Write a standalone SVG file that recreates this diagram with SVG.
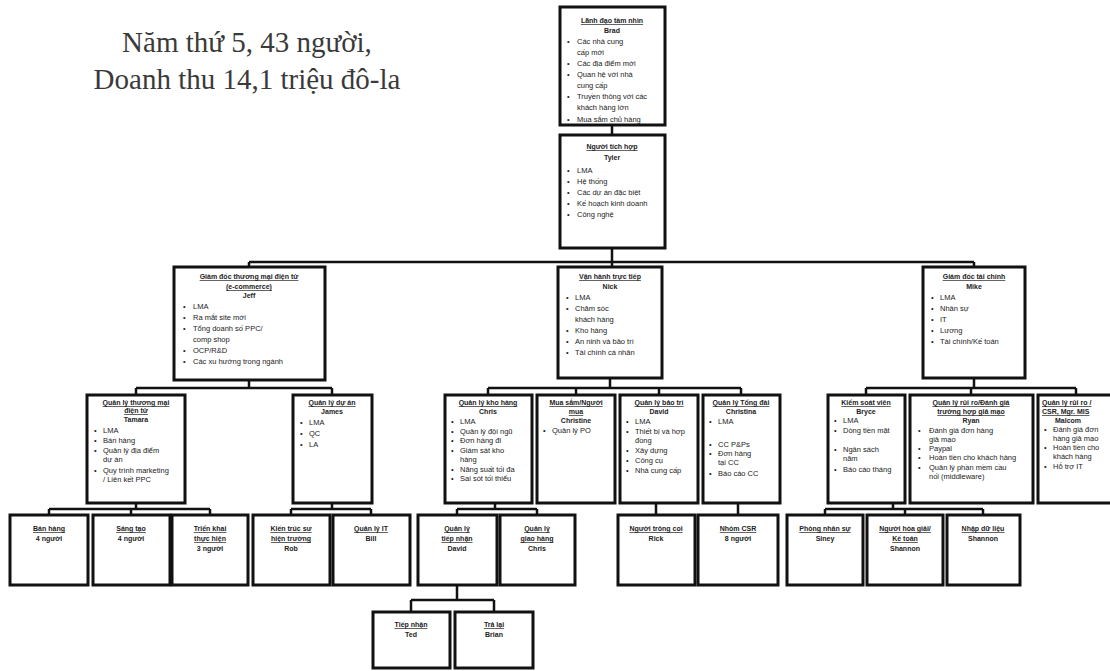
<svg xmlns="http://www.w3.org/2000/svg" width="1110" height="671" viewBox="0 0 1110 671">
<style>
.bg{fill:#fff}
.box{fill:#fff;stroke:#111;stroke-width:3}
.c{fill:none;stroke:#111;stroke-width:2.5}
text{font-family:"Liberation Sans",Arial,sans-serif;fill:#222}
.h{font-size:7px;font-weight:bold;text-decoration:underline;text-anchor:middle}
.n{font-size:7px;font-weight:bold;text-anchor:middle}
.t{font-size:7.5px}
.title{font-family:"Liberation Serif","Times New Roman",serif;font-size:29px;fill:#3a3a3a;text-anchor:middle}
</style>
<rect class="bg" width="1110" height="671"/>
<g id="title">
<text class="title" x="247" y="52">Năm thứ 5, 43 người,</text>
<text class="title" x="247" y="89">Doanh thu 14,1 triệu đô-la</text>
</g>
<g id="connectors">
<path class="c" d="M612 125V135M612 248V267M249 262H974M249 262V267M974 262V267"/>
<path class="c" d="M249 380V388M136 388H332M136 388V395M332 388V395"/>
<path class="c" d="M610 378V388M488 388H741M488 388V395M576 388V395M659 388V395M741 388V395"/>
<path class="c" d="M974 378V388M866 388H1076M866 388V395M971 388V395M1076 388V395"/>
<path class="c" d="M136 503V509M49 509H210M49 509V515M131 509V515M210 509V515"/>
<path class="c" d="M332 503V509M291 509H371M291 509V515M371 509V515"/>
<path class="c" d="M495 503V509M457 509H537M457 509V515M537 509V515"/>
<path class="c" d="M656 503V515M738 503V515"/>
<path class="c" d="M893 503V509M825 509H983M825 509V515M905 509V515M983 509V515"/>
<path class="c" d="M457 585V600M411 600H494M411 600V612M494 600V612"/>
</g>
<g id="brad">
<rect class="box" x="560" y="7" width="105" height="118"/>
<text class="h" x="612" y="23">Lãnh đạo tầm nhìn</text>
<text class="n" x="612" y="33">Brad</text>
<text class="t" x="567" y="44">•</text><text class="t" x="577" y="44">Các nhà cung</text>
<text class="t" x="577" y="55">cấp mới</text>
<text class="t" x="567" y="66">•</text><text class="t" x="577" y="66">Các địa điểm mới</text>
<text class="t" x="567" y="77">•</text><text class="t" x="577" y="77">Quan hệ với nhà</text>
<text class="t" x="577" y="88">cung cấp</text>
<text class="t" x="567" y="99">•</text><text class="t" x="577" y="99">Truyền thông với các</text>
<text class="t" x="577" y="110">khách hàng lớn</text>
<text class="t" x="567" y="122">•</text><text class="t" x="577" y="122">Mua sắm chủ hàng</text>
</g>
<g id="tyler">
<rect class="box" x="560" y="135" width="105" height="113"/>
<text class="h" x="612" y="149">Người tích hợp</text>
<text class="n" x="612" y="160">Tyler</text>
<text class="t" x="567" y="173">•</text><text class="t" x="577" y="173">LMA</text>
<text class="t" x="567" y="184">•</text><text class="t" x="577" y="184">Hệ thống</text>
<text class="t" x="567" y="195">•</text><text class="t" x="577" y="195">Các dự án đặc biệt</text>
<text class="t" x="567" y="206">•</text><text class="t" x="577" y="206">Kế hoạch kinh doanh</text>
<text class="t" x="567" y="217">•</text><text class="t" x="577" y="217">Công nghệ</text>
</g>
<g id="jeff">
<rect class="box" x="174" y="267" width="151" height="113"/>
<text class="h" x="249" y="279">Giám đốc thương mại điện tử</text>
<text class="h" x="249" y="289">(e-commerce)</text>
<text class="n" x="249" y="298">Jeff</text>
<text class="t" x="183" y="309">•</text><text class="t" x="193" y="309">LMA</text>
<text class="t" x="183" y="320">•</text><text class="t" x="193" y="320">Ra mắt site mới</text>
<text class="t" x="183" y="331">•</text><text class="t" x="193" y="331">Tổng doanh số PPC/</text>
<text class="t" x="193" y="342">comp shop</text>
<text class="t" x="183" y="353">•</text><text class="t" x="193" y="353">OCP/R&amp;D</text>
<text class="t" x="183" y="364">•</text><text class="t" x="193" y="364">Các xu hướng trong ngành</text>
</g>
<g id="nick">
<rect class="box" x="558" y="267" width="104" height="111"/>
<text class="h" x="610" y="279">Vận hành trực tiếp</text>
<text class="n" x="610" y="289">Nick</text>
<text class="t" x="566" y="300">•</text><text class="t" x="575" y="300">LMA</text>
<text class="t" x="566" y="311">•</text><text class="t" x="575" y="311">Chăm sóc</text>
<text class="t" x="575" y="322">khách hàng</text>
<text class="t" x="566" y="333">•</text><text class="t" x="575" y="333">Kho hàng</text>
<text class="t" x="566" y="344">•</text><text class="t" x="575" y="344">An ninh và bảo trì</text>
<text class="t" x="566" y="355">•</text><text class="t" x="575" y="355">Tài chính cá nhân</text>
</g>
<g id="mike">
<rect class="box" x="923" y="267" width="102" height="111"/>
<text class="h" x="974" y="279">Giám đốc tài chính</text>
<text class="n" x="974" y="289">Mike</text>
<text class="t" x="931" y="300">•</text><text class="t" x="940" y="300">LMA</text>
<text class="t" x="931" y="311">•</text><text class="t" x="940" y="311">Nhân sự</text>
<text class="t" x="931" y="322">•</text><text class="t" x="940" y="322">IT</text>
<text class="t" x="931" y="333">•</text><text class="t" x="940" y="333">Lương</text>
<text class="t" x="931" y="344">•</text><text class="t" x="940" y="344">Tài chính/Kế toán</text>
</g>
<g id="tamara">
<rect class="box" x="87" y="395" width="98" height="108"/>
<text class="h" x="136" y="405">Quản lý thương mại</text>
<text class="h" x="136" y="413">điện tử</text>
<text class="n" x="136" y="422">Tamara</text>
<text class="t" x="94" y="433">•</text><text class="t" x="103" y="433">LMA</text>
<text class="t" x="94" y="443">•</text><text class="t" x="103" y="443">Bán hàng</text>
<text class="t" x="94" y="453">•</text><text class="t" x="103" y="453">Quản lý địa điểm</text>
<text class="t" x="103" y="462">dự án</text>
<text class="t" x="94" y="473">•</text><text class="t" x="103" y="473">Quy trình marketing</text>
<text class="t" x="103" y="482">/ Liên kết PPC</text>
</g>
<g id="james">
<rect class="box" x="293" y="395" width="79" height="108"/>
<text class="h" x="332" y="405">Quản lý dự án</text>
<text class="n" x="332" y="414">James</text>
<text class="t" x="300" y="425">•</text><text class="t" x="309" y="425">LMA</text>
<text class="t" x="300" y="436">•</text><text class="t" x="309" y="436">QC</text>
<text class="t" x="300" y="447">•</text><text class="t" x="309" y="447">LA</text>
</g>
<g id="chris">
<rect class="box" x="445" y="395" width="87" height="108"/>
<text class="h" x="488" y="405">Quản lý kho hàng</text>
<text class="n" x="488" y="414">Chris</text>
<text class="t" x="451" y="424">•</text><text class="t" x="460" y="424">LMA</text>
<text class="t" x="451" y="433.5">•</text><text class="t" x="460" y="433.5">Quản lý đội ngũ</text>
<text class="t" x="451" y="443">•</text><text class="t" x="460" y="443">Đơn hàng đi</text>
<text class="t" x="451" y="452.5">•</text><text class="t" x="460" y="452.5">Giám sát kho</text>
<text class="t" x="460" y="462">hàng</text>
<text class="t" x="451" y="471.5">•</text><text class="t" x="460" y="471.5">Năng suất tối đa</text>
<text class="t" x="451" y="481">•</text><text class="t" x="460" y="481">Sai sót tối thiểu</text>
</g>
<g id="christine">
<rect class="box" x="537" y="395" width="78" height="108"/>
<text class="h" x="576" y="405">Mua sắm/Người</text>
<text class="h" x="576" y="414">mua</text>
<text class="n" x="576" y="423">Christine</text>
<text class="t" x="543" y="433">•</text><text class="t" x="552" y="433">Quản lý PO</text>
</g>
<g id="david">
<rect class="box" x="620" y="395" width="78" height="108"/>
<text class="h" x="659" y="405">Quản lý bảo trì</text>
<text class="n" x="659" y="414">David</text>
<text class="t" x="626" y="424">•</text><text class="t" x="635" y="424">LMA</text>
<text class="t" x="626" y="434">•</text><text class="t" x="635" y="434">Thiết bị và hợp</text>
<text class="t" x="635" y="443">đồng</text>
<text class="t" x="626" y="453">•</text><text class="t" x="635" y="453">Xây dựng</text>
<text class="t" x="626" y="463">•</text><text class="t" x="635" y="463">Công cụ</text>
<text class="t" x="626" y="473">•</text><text class="t" x="635" y="473">Nhà cung cấp</text>
</g>
<g id="christina">
<rect class="box" x="703" y="395" width="77" height="108"/>
<text class="h" x="741" y="405">Quản lý Tổng đài</text>
<text class="n" x="741" y="414">Christina</text>
<text class="t" x="709" y="424">•</text><text class="t" x="718" y="424">LMA</text>
<text class="t" x="709" y="447">•</text><text class="t" x="718" y="447">CC P&amp;Ps</text>
<text class="t" x="709" y="456">•</text><text class="t" x="718" y="456">Đơn hàng</text>
<text class="t" x="718" y="465">tại CC</text>
<text class="t" x="709" y="476">•</text><text class="t" x="718" y="476">Báo cáo CC</text>
</g>
<g id="bryce">
<rect class="box" x="828" y="395" width="77" height="108"/>
<text class="h" x="866" y="405">Kiểm soát viên</text>
<text class="n" x="866" y="414">Bryce</text>
<text class="t" x="834" y="423">•</text><text class="t" x="843" y="423">LMA</text>
<text class="t" x="834" y="433">•</text><text class="t" x="843" y="433">Dòng tiền mặt</text>
<text class="t" x="834" y="452">•</text><text class="t" x="843" y="452">Ngân sách</text>
<text class="t" x="843" y="461">năm</text>
<text class="t" x="834" y="472">•</text><text class="t" x="843" y="472">Báo cáo tháng</text>
</g>
<g id="ryan">
<rect class="box" x="910" y="395" width="123" height="108"/>
<text class="h" x="971" y="405">Quản lý rủi ro/Đánh giá</text>
<text class="h" x="971" y="414">trường hợp giả mạo</text>
<text class="n" x="971" y="423">Ryan</text>
<text class="t" x="918" y="433">•</text><text class="t" x="929" y="433">Đánh giá đơn hàng</text>
<text class="t" x="929" y="442">giả mạo</text>
<text class="t" x="918" y="451">•</text><text class="t" x="929" y="451">Paypal</text>
<text class="t" x="918" y="460">•</text><text class="t" x="929" y="460">Hoàn tiền cho khách hàng</text>
<text class="t" x="918" y="470">•</text><text class="t" x="929" y="470">Quản lý phần mềm cầu</text>
<text class="t" x="929" y="479">nối (middleware)</text>
</g>
<g id="malcom">
<rect class="box" x="1038" y="395" width="80" height="108"/>
<text class="h" x="1042" y="405" style="text-anchor:start">Quản lý rủi ro /</text>
<text class="h" x="1042" y="414" style="text-anchor:start">CSR, Mgr. MIS</text>
<text class="n" x="1068" y="423">Malcom</text>
<text class="t" x="1044" y="432">•</text><text class="t" x="1053" y="432">Đánh giá đơn</text>
<text class="t" x="1053" y="441">hàng giả mạo</text>
<text class="t" x="1044" y="450">•</text><text class="t" x="1053" y="450">Hoàn tiền cho</text>
<text class="t" x="1053" y="459">khách hàng</text>
<text class="t" x="1044" y="469">•</text><text class="t" x="1053" y="469">Hỗ trợ IT</text>
</g>
<g id="banhang">
<rect class="box" x="10" y="515" width="78" height="70"/>
<text class="h" x="49" y="531">Bán hàng</text>
<text class="n" x="49" y="541">4 người</text>
</g>
<g id="sangtao">
<rect class="box" x="93" y="515" width="77" height="70"/>
<text class="h" x="131" y="531">Sáng tạo</text>
<text class="n" x="131" y="541">4 người</text>
</g>
<g id="trienkhai">
<rect class="box" x="172" y="515" width="76" height="70"/>
<text class="h" x="210" y="531">Triển khai</text>
<text class="h" x="210" y="541">thực hiện</text>
<text class="n" x="210" y="551">3 người</text>
</g>
<g id="rob">
<rect class="box" x="253" y="515" width="77" height="70"/>
<text class="h" x="291" y="531">Kiến trúc sư</text>
<text class="h" x="291" y="541">hiện trường</text>
<text class="n" x="291" y="551">Rob</text>
</g>
<g id="bill">
<rect class="box" x="333" y="515" width="77" height="70"/>
<text class="h" x="371" y="531">Quản lý IT</text>
<text class="n" x="371" y="541">Bill</text>
</g>
<g id="david2">
<rect class="box" x="418" y="515" width="79" height="70"/>
<text class="h" x="457" y="531">Quản lý</text>
<text class="h" x="457" y="541">tiếp nhận</text>
<text class="n" x="457" y="551">David</text>
</g>
<g id="chris2">
<rect class="box" x="500" y="515" width="75" height="70"/>
<text class="h" x="537" y="531">Quản lý</text>
<text class="h" x="537" y="541">giao hàng</text>
<text class="n" x="537" y="551">Chris</text>
</g>
<g id="rick">
<rect class="box" x="618" y="515" width="77" height="70"/>
<text class="h" x="656" y="531">Người trông coi</text>
<text class="n" x="656" y="541">Rick</text>
</g>
<g id="csr">
<rect class="box" x="698" y="515" width="80" height="70"/>
<text class="h" x="738" y="531">Nhóm CSR</text>
<text class="n" x="738" y="541">8 người</text>
</g>
<g id="siney">
<rect class="box" x="787" y="515" width="76" height="70"/>
<text class="h" x="825" y="531">Phòng nhân sự</text>
<text class="n" x="825" y="541">Siney</text>
</g>
<g id="shannon1">
<rect class="box" x="867" y="515" width="76" height="70"/>
<text class="h" x="905" y="531">Người hòa giải/</text>
<text class="h" x="905" y="541">Kế toán</text>
<text class="n" x="905" y="551">Shannon</text>
</g>
<g id="shannon2">
<rect class="box" x="947" y="515" width="73" height="70"/>
<text class="h" x="983" y="531">Nhập dữ liệu</text>
<text class="n" x="983" y="541">Shannon</text>
</g>
<g id="ted">
<rect class="box" x="373" y="612" width="77" height="56"/>
<text class="h" x="411" y="627">Tiếp nhận</text>
<text class="n" x="411" y="637">Ted</text>
</g>
<g id="brian">
<rect class="box" x="455" y="612" width="78" height="56"/>
<text class="h" x="494" y="627">Trả lại</text>
<text class="n" x="494" y="637">Brian</text>
</g>
</svg>
